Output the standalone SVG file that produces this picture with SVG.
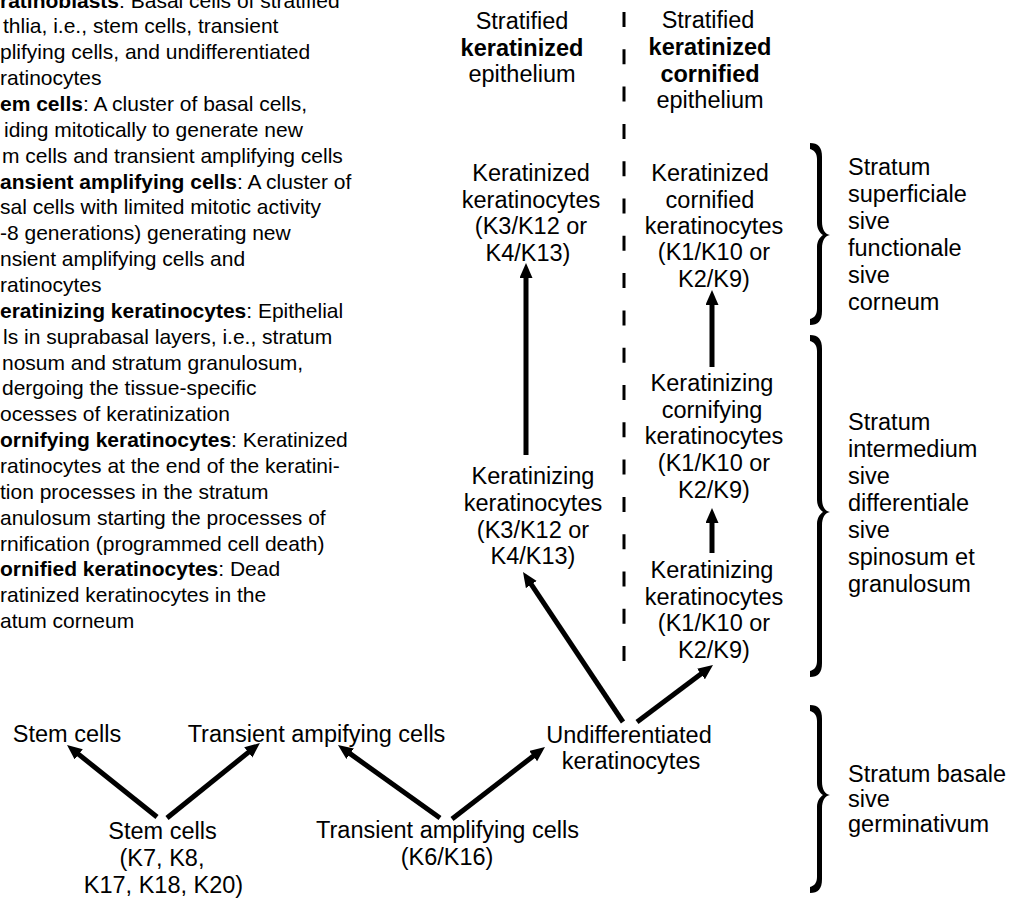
<svg xmlns="http://www.w3.org/2000/svg" width="1015" height="900" viewBox="0 0 1015 900">
<defs>
<style>
text{font-family:"Liberation Sans",Arial,sans-serif;fill:#000}
.lg{font-size:21px}
.b{font-weight:bold}
.lb{font-size:23.5px;text-anchor:middle}
.rl{font-size:23.5px}
.conn line{stroke:#000;stroke-width:5;fill:none}
.brace{fill:#000}
</style>
<marker id="ah" markerUnits="userSpaceOnUse" markerWidth="16" markerHeight="14" refX="4" refY="6.5" orient="auto"><path d="M0,0 L15,6.5 L0,13 Z" fill="#000"/></marker>
</defs>
<rect width="1015" height="900" fill="#fff"/>

<g id="legend" class="lg">
<text x="0" y="7.5"><tspan class="b">ratinoblasts</tspan>: Basal cells of stratified</text>
<text x="3" y="33.4">thlia, i.e., stem cells, transient</text>
<text x="0" y="59.2">plifying cells, and undifferentiated</text>
<text x="0" y="85.1">ratinocytes</text>
<text x="0" y="110.9"><tspan class="b">em cells</tspan>: A cluster of basal cells,</text>
<text x="4" y="136.8">iding mitotically to generate new</text>
<text x="2" y="162.7">m cells and transient amplifying cells</text>
<text x="0" y="188.5"><tspan class="b">ansient amplifying cells</tspan>: A cluster of</text>
<text x="0" y="214.4">sal cells with limited mitotic activity</text>
<text x="0" y="240.2">-8 generations) generating new</text>
<text x="0" y="266.1">nsient amplifying cells and</text>
<text x="0" y="292">ratinocytes</text>
<text x="0" y="317.8"><tspan class="b">eratinizing keratinocytes</tspan>: Epithelial</text>
<text x="3" y="343.7">ls in suprabasal layers, i.e., stratum</text>
<text x="2" y="369.5">nosum and stratum granulosum,</text>
<text x="2" y="395.4">dergoing the tissue-specific</text>
<text x="0" y="421.2">ocesses of keratinization</text>
<text x="0" y="447.1"><tspan class="b">ornifying keratinocytes</tspan>: Keratinized</text>
<text x="0" y="473">ratinocytes at the end of the keratini-</text>
<text x="0" y="498.8">tion processes in the stratum</text>
<text x="0" y="524.7">anulosum starting the processes of</text>
<text x="0" y="550.5">rnification (programmed cell death)</text>
<text x="0" y="576.4"><tspan class="b">ornified keratinocytes</tspan>: Dead</text>
<text x="0" y="602.2">ratinized keratinocytes in the</text>
<text x="0" y="628.1">atum corneum</text>
</g>

<g id="divider"><line x1="624" y1="12" x2="624" y2="676" stroke="#000" stroke-width="3" stroke-dasharray="15 22.3"/></g>

<g id="head-keratinized" class="lb">
<text x="522" y="29">Stratified</text>
<text x="522" y="56" class="b">keratinized</text>
<text x="522" y="82">epithelium</text>
</g>
<g id="head-cornified" class="lb">
<text x="708" y="28">Stratified</text>
<text x="710" y="55" class="b">keratinized</text>
<text x="710" y="82" class="b">cornified</text>
<text x="710" y="108">epithelium</text>
</g>

<g id="keratinized-k" class="lb">
<text x="531" y="181">Keratinized</text>
<text x="531" y="207.5">keratinocytes</text>
<text x="531" y="234">(K3/K12 or</text>
<text x="528" y="260.5">K4/K13)</text>
</g>
<g id="keratinizing-k" class="lb">
<text x="533" y="484">Keratinizing</text>
<text x="533" y="511">keratinocytes</text>
<text x="533" y="537.5">(K3/K12 or</text>
<text x="533" y="564">K4/K13)</text>
</g>

<g id="cornified-k" class="lb">
<text x="710" y="181">Keratinized</text>
<text x="710" y="207.5">cornified</text>
<text x="714" y="234">keratinocytes</text>
<text x="714" y="260">(K1/K10 or</text>
<text x="714" y="286.5">K2/K9)</text>
</g>
<g id="cornifying-k" class="lb">
<text x="712" y="391">Keratinizing</text>
<text x="712" y="417.7">cornifying</text>
<text x="714" y="444.4">keratinocytes</text>
<text x="714" y="471">(K1/K10 or</text>
<text x="714" y="497.8">K2/K9)</text>
</g>
<g id="keratinizing-k2" class="lb">
<text x="712" y="578">Keratinizing</text>
<text x="714" y="604.7">keratinocytes</text>
<text x="714" y="631.3">(K1/K10 or</text>
<text x="714" y="658">K2/K9)</text>
</g>

<g id="stem-out" class="lb"><text x="67" y="742">Stem cells</text></g>
<g id="ta-out" class="lb"><text x="316.5" y="742">Transient ampifying cells</text></g>
<g id="undiff" class="lb">
<text x="629" y="743">Undifferentiated</text>
<text x="631" y="769">keratinocytes</text>
</g>
<g id="stem" class="lb">
<text x="162.5" y="839">Stem cells</text>
<text x="162" y="866">(K7, K8,</text>
<text x="163.5" y="893">K17, K18, K20)</text>
</g>
<g id="ta" class="lb">
<text x="447.5" y="838">Transient amplifying cells</text>
<text x="447" y="865">(K6/K16)</text>
</g>

<g id="layer-superficiale">
<path class="brace" d="M810,143 C818,143 822,147 822,157 L822,221 C822,230 825,234 830,235 C825,236 822,240 822,249 L822,311 C822,321 818,325 810,325 L810,319 C814,318 817,315 817,309 L817,247 C817,241 820,237 823,235 C820,233 817,229 817,223 L817,159 C817,153 814,150 810,149 Z"/>
<text class="rl" x="848" y="175">Stratum</text>
<text class="rl" x="848" y="202">superficiale</text>
<text class="rl" x="848" y="229">sive</text>
<text class="rl" x="848" y="256">functionale</text>
<text class="rl" x="848" y="283">sive</text>
<text class="rl" x="848" y="310">corneum</text>
</g>
<g id="layer-intermedium">
<path class="brace" d="M810,335 C818,335 822,339 822,349 L822,498 C822,507 825,511 830,512 C825,513 822,517 822,526 L822,663 C822,673 818,677 810,677 L810,671 C814,670 817,667 817,661 L817,524 C817,518 820,514 823,512 C820,510 817,506 817,500 L817,351 C817,345 814,342 810,341 Z"/>
<text class="rl" x="848" y="430">Stratum</text>
<text class="rl" x="848" y="457">intermedium</text>
<text class="rl" x="848" y="484">sive</text>
<text class="rl" x="848" y="511">differentiale</text>
<text class="rl" x="848" y="538">sive</text>
<text class="rl" x="848" y="565">spinosum et</text>
<text class="rl" x="848" y="592">granulosum</text>
</g>
<g id="layer-basale">
<path class="brace" d="M810,705 C818,705 822,709 822,719 L822,781 C822,790 825,794 830,795 C825,796 822,800 822,809 L822,879 C822,889 818,893 810,893 L810,887 C814,886 817,883 817,877 L817,807 C817,801 820,797 823,795 C820,793 817,789 817,783 L817,721 C817,715 814,712 810,711 Z"/>
<text class="rl" x="848" y="782">Stratum basale</text>
<text class="rl" x="848" y="807">sive</text>
<text class="rl" x="848" y="832">germinativum</text>
</g>

<g id="connectors" class="conn">
<line x1="157" y1="817" x2="75.6" y2="751.9" marker-end="url(#ah)"/>
<line x1="167" y1="818" x2="251.4" y2="749.9" marker-end="url(#ah)"/>
<line x1="440" y1="818" x2="346.9" y2="751.4" marker-end="url(#ah)"/>
<line x1="452" y1="819" x2="536.3" y2="753.7" marker-end="url(#ah)"/>
<line x1="623" y1="722" x2="529.1" y2="581.2" marker-end="url(#ah)"/>
<line x1="637" y1="722" x2="704.2" y2="671.6" marker-end="url(#ah)"/>
<line x1="526" y1="455" x2="526" y2="274" marker-end="url(#ah)"/>
<line x1="712" y1="367" x2="712" y2="301" marker-end="url(#ah)"/>
<line x1="712" y1="553" x2="712" y2="519" marker-end="url(#ah)"/>
</g>
</svg>
